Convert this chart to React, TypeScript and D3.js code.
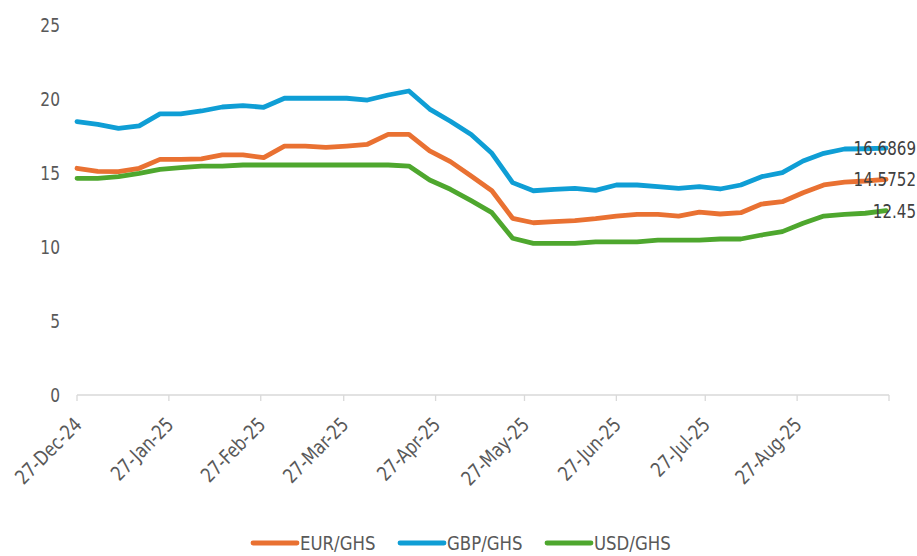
import React, { useEffect, useRef } from 'react';
import * as d3 from 'd3';

// weekly fixing dates (Fridays)
const dates = [
  '2024-12-27', '2025-01-03', '2025-01-10', '2025-01-17', '2025-01-24', '2025-01-31',
  '2025-02-07', '2025-02-14', '2025-02-21', '2025-02-28', '2025-03-07', '2025-03-14',
  '2025-03-21', '2025-03-28', '2025-04-04', '2025-04-11', '2025-04-18', '2025-04-25',
  '2025-05-02', '2025-05-09', '2025-05-16', '2025-05-23', '2025-05-30', '2025-06-06',
  '2025-06-13', '2025-06-20', '2025-06-27', '2025-07-04', '2025-07-11', '2025-07-18',
  '2025-07-25', '2025-08-01', '2025-08-08', '2025-08-15', '2025-08-22', '2025-08-29',
  '2025-09-05', '2025-09-12', '2025-09-19', '2025-09-26'
];

const eurGhs = [
  15.32, 15.11, 15.09, 15.32, 15.92, 15.92, 15.95, 16.22, 16.22, 16.04,
  16.82, 16.82, 16.73, 16.82, 16.94, 17.61, 17.61, 16.49, 15.77, 14.8,
  13.8, 11.94, 11.64, 11.71, 11.78, 11.91, 12.09, 12.21, 12.21, 12.09,
  12.36, 12.23, 12.32, 12.9, 13.06, 13.67, 14.19, 14.39, 14.46, 14.5752
];

const gbpGhs = [
  18.47, 18.29, 18.02, 18.18, 18.99, 18.99, 19.19, 19.46, 19.55, 19.44,
  20.05, 20.05, 20.05, 20.05, 19.93, 20.27, 20.54, 19.32, 18.5, 17.6,
  16.33, 14.35, 13.8, 13.9, 13.96, 13.83, 14.19, 14.19, 14.08, 13.96,
  14.08, 13.92, 14.19, 14.75, 15.02, 15.81, 16.33, 16.62, 16.64, 16.6869
];

const usdGhs = [
  14.64, 14.64, 14.75, 14.98, 15.25, 15.36, 15.47, 15.47, 15.54, 15.54,
  15.54, 15.54, 15.54, 15.54, 15.54, 15.54, 15.47, 14.53, 13.9, 13.13,
  12.32, 10.59, 10.25, 10.25, 10.25, 10.34, 10.34, 10.34, 10.47, 10.47,
  10.47, 10.54, 10.54, 10.81, 11.04, 11.6, 12.09, 12.21, 12.28, 12.45
];

// last-point labels, same order as the series
const endLabels = ['14.5752', '16.6869', '12.45'];

const xTickLabels = [
  '27-Dec-24', '27-Jan-25', '27-Feb-25', '27-Mar-25', '27-Apr-25',
  '27-May-25', '27-Jun-25', '27-Jul-25', '27-Aug-25'
];
const axisEnd = '27-Sep-25';
const yTicks = [0, 5, 10, 15, 20, 25];

const seriesNames = ['EUR/GHS', 'GBP/GHS', 'USD/GHS'];
const seriesColours = ['#E97132', '#0F9ED5', '#4EA72E'];

const W = 917;
const H = 556;
const FONT = '"DejaVu Sans Condensed", "DejaVu Sans", sans-serif';

export default function App() {
  const ref = useRef<SVGSVGElement>(null);

  useEffect(() => {
    const svg = d3.select(ref.current);
    svg.selectAll('*').remove();

    const parseDate = d3.utcParse('%Y-%m-%d');
    const parseTick = d3.utcParse('%d-%b-%y');
    const days = dates.map(d => parseDate(d) as Date);
    const tickDates = xTickLabels.map(t => parseTick(t) as Date);
    const endDate = parseTick(axisEnd) as Date;

    const x = d3.scaleUtc().domain([tickDates[0], endDate]).range([77, 889]);
    const y = d3.scaleLinear().domain([0, 25]).range([395, 25]);

    // y labels
    svg.append('g')
      .selectAll('text')
      .data(yTicks)
      .enter().append('text')
      .attr('transform', d => `translate(60,${y(d)}) scale(0.86,1)`)
      .attr('dy', '0.35em')
      .attr('text-anchor', 'end')
      .attr('font-family', FONT)
      .attr('font-size', 20)
      .attr('fill', '#595959')
      .text(d => d);

    // x axis
    const axis = svg.append('g');
    axis.append('line')
      .attr('x1', x.range()[0]).attr('x2', x.range()[1])
      .attr('y1', y(0)).attr('y2', y(0))
      .attr('stroke', '#D9D9D9').attr('stroke-width', 1.3);
    axis.selectAll('.tick')
      .data([...tickDates, endDate])
      .enter().append('line')
      .attr('x1', d => x(d)).attr('x2', d => x(d))
      .attr('y1', y(0)).attr('y2', y(0) + 6)
      .attr('stroke', '#D9D9D9').attr('stroke-width', 1.3);
    axis.selectAll('.xlabel')
      .data(tickDates)
      .enter().append('text')
      .attr('transform', d => `translate(${x(d) + 6},${y(0) + 31}) rotate(-45) scale(0.9,1)`)
      .attr('text-anchor', 'end')
      .attr('font-family', FONT)
      .attr('font-size', 20)
      .attr('fill', '#595959')
      .text((d, i) => xTickLabels[i]);

    // lines
    const allSeries = [eurGhs, gbpGhs, usdGhs];
    const line = d3.line<number>()
      .x((d, i) => x(days[i]))
      .y(d => y(d));

    allSeries.forEach((s, k) => {
      svg.append('path')
        .datum(s)
        .attr('d', line)
        .attr('fill', 'none')
        .attr('stroke', seriesColours[k])
        .attr('stroke-width', 4.8)
        .attr('stroke-linejoin', 'round')
        .attr('stroke-linecap', 'round');
    });

    // end labels, pushed inside the right edge
    svg.append('g')
      .selectAll('text')
      .data(allSeries)
      .enter().append('text')
      .attr('transform', s => `translate(${W - 1},${y(s[s.length - 1])}) scale(0.84,1)`)
      .attr('dy', '0.35em')
      .attr('text-anchor', 'end')
      .attr('font-family', FONT)
      .attr('font-size', 20)
      .attr('fill', '#404040')
      .text((s, i) => endLabels[i]);

    // legend
    const legendX = [253, 400, 547];
    const legend = svg.append('g')
      .selectAll('g')
      .data(seriesNames)
      .enter().append('g')
      .attr('transform', (d, i) => `translate(${legendX[i]},543)`);
    legend.append('line')
      .attr('x1', 0).attr('x2', 44)
      .attr('stroke', (d, i) => seriesColours[i])
      .attr('stroke-width', 4.8)
      .attr('stroke-linecap', 'round');
    legend.append('text')
      .attr('transform', 'translate(47,0) scale(0.92,1)')
      .attr('dy', '0.35em')
      .attr('font-family', FONT)
      .attr('font-size', 20)
      .attr('fill', '#595959')
      .text(d => d);
  }, []);

  return (
    <svg ref={ref} width={W} height={H}
      style={{ position: 'absolute', left: 0, top: 0, background: '#fff' }} />
  );
}
